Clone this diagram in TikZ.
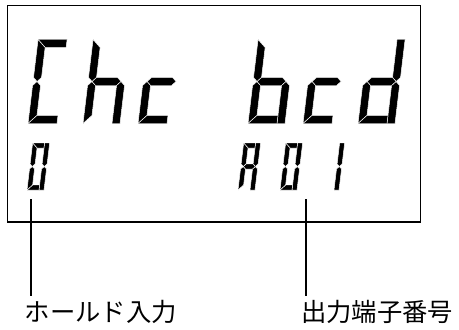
\documentclass[tikz,border=0pt]{standalone}
\usepackage{fontspec}
\newfontfamily\jpfont{Noto Sans CJK JP}
% segments of one LCD character, local size \dw x \dh, bar \dt
\def\sega{\fill[lcd] (0,\dh) -- (\dw-\dt,\dh) -- (\dw-\dt,\dh-\dt) -- (\dt,\dh-\dt) -- cycle;}
\def\segb{\fill[lcd] (\dw-\dt,\dh) -- (\dw,\dh) -- (\dw,\dh/2+\dt/2) -- (\dw-\dt/2,\dh/2) -- (\dw-\dt,\dh/2+\dt/2) -- cycle;}
\def\segc{\fill[lcd] (\dw-\dt,0) -- (\dw,0) -- (\dw,\dh/2-\dt/2) -- (\dw-\dt/2,\dh/2) -- (\dw-\dt,\dh/2-\dt/2) -- cycle;}
\def\segd{\fill[lcd] (0,0) -- (\dw-\dt,0) -- (\dw-\dt,\dt) -- (\dt,\dt) -- cycle;}
\def\sege{\fill[lcd] (0,0) -- (\dt,\dt) -- (\dt,\dh/2-\dt/2) -- (\dt/2,\dh/2) -- (0,\dh/2-\dt/2) -- cycle;}
\def\segf{\fill[lcd] (0,\dh) -- (\dt,\dh-\dt) -- (\dt,\dh/2+\dt/2) -- (\dt/2,\dh/2) -- (0,\dh/2+\dt/2) -- cycle;}
\def\segg{\fill[lcd] (\dt/2,\dh/2) -- (\dt,\dh/2+\dt/2) -- (\dw-\dt,\dh/2+\dt/2) -- (\dw-\dt/2,\dh/2) -- (\dw-\dt,\dh/2-\dt/2) -- (\dt,\dh/2-\dt/2) -- cycle;}
% x, y of lower left corner, width, height, bar, segments
\newcommand{\lcdchar}[6]{%
  \begin{scope}[shift={(#1,#2)}, xslant=0.12]
    \def\dw{#3}\def\dh{#4}\def\dt{#5}
    \foreach \s in {#6} {\csname seg\s\endcsname}
  \end{scope}}

\begin{document}
\begin{tikzpicture}[x=0.75pt, y=0.75pt,
  lcd/.style={fill=black, draw=white, line width=0.35pt, line join=round},
  every node/.style={font=\jpfont\fontsize{19}{22}\selectfont, inner sep=0pt}]
  \useasboundingbox (0,0) rectangle (459,329);
  \draw[line width=1pt] (7.5,107) rectangle (420.5,323.5);

  % top line: C h c _ b c d
  \lcdchar{28}{205.5}{37}{84}{8}{a,f,e,d}
  \lcdchar{83}{205.5}{37}{84}{8}{f,e,g,c}
  \lcdchar{138}{205.5}{37}{84}{8}{g,e,d}
  \lcdchar{248}{205.5}{37}{84}{8}{f,e,g,c,d}
  \lcdchar{303}{205.5}{37}{84}{8}{g,e,d}
  \lcdchar{358}{205.5}{37}{84}{8}{b,c,g,e,d}

  % bottom line: 0 ... A 0 1
  \lcdchar{27}{139}{17}{47}{5}{a,b,c,d,e,f}
  \lcdchar{238}{139}{17}{47}{5}{a,b,c,e,f,g}
  \lcdchar{280}{139}{17}{47}{5}{a,b,c,d,e,f}
  \lcdchar{322}{139}{17}{47}{5}{b,c}

  \coordinate (p0) at (31,130);
  \coordinate (pA) at (306,130);
  \node[anchor=base west] (hold) at (24.5,8) {ホールド入力};
  \node[anchor=base west] (outno) at (301,8) {出力端子番号};
  \draw[line width=0.8pt, shorten >=3pt] (p0) -- (p0 |- hold.north);
  \draw[line width=0.8pt, shorten >=3pt] (pA) -- (pA |- outno.north);
\end{tikzpicture}
\end{document}
